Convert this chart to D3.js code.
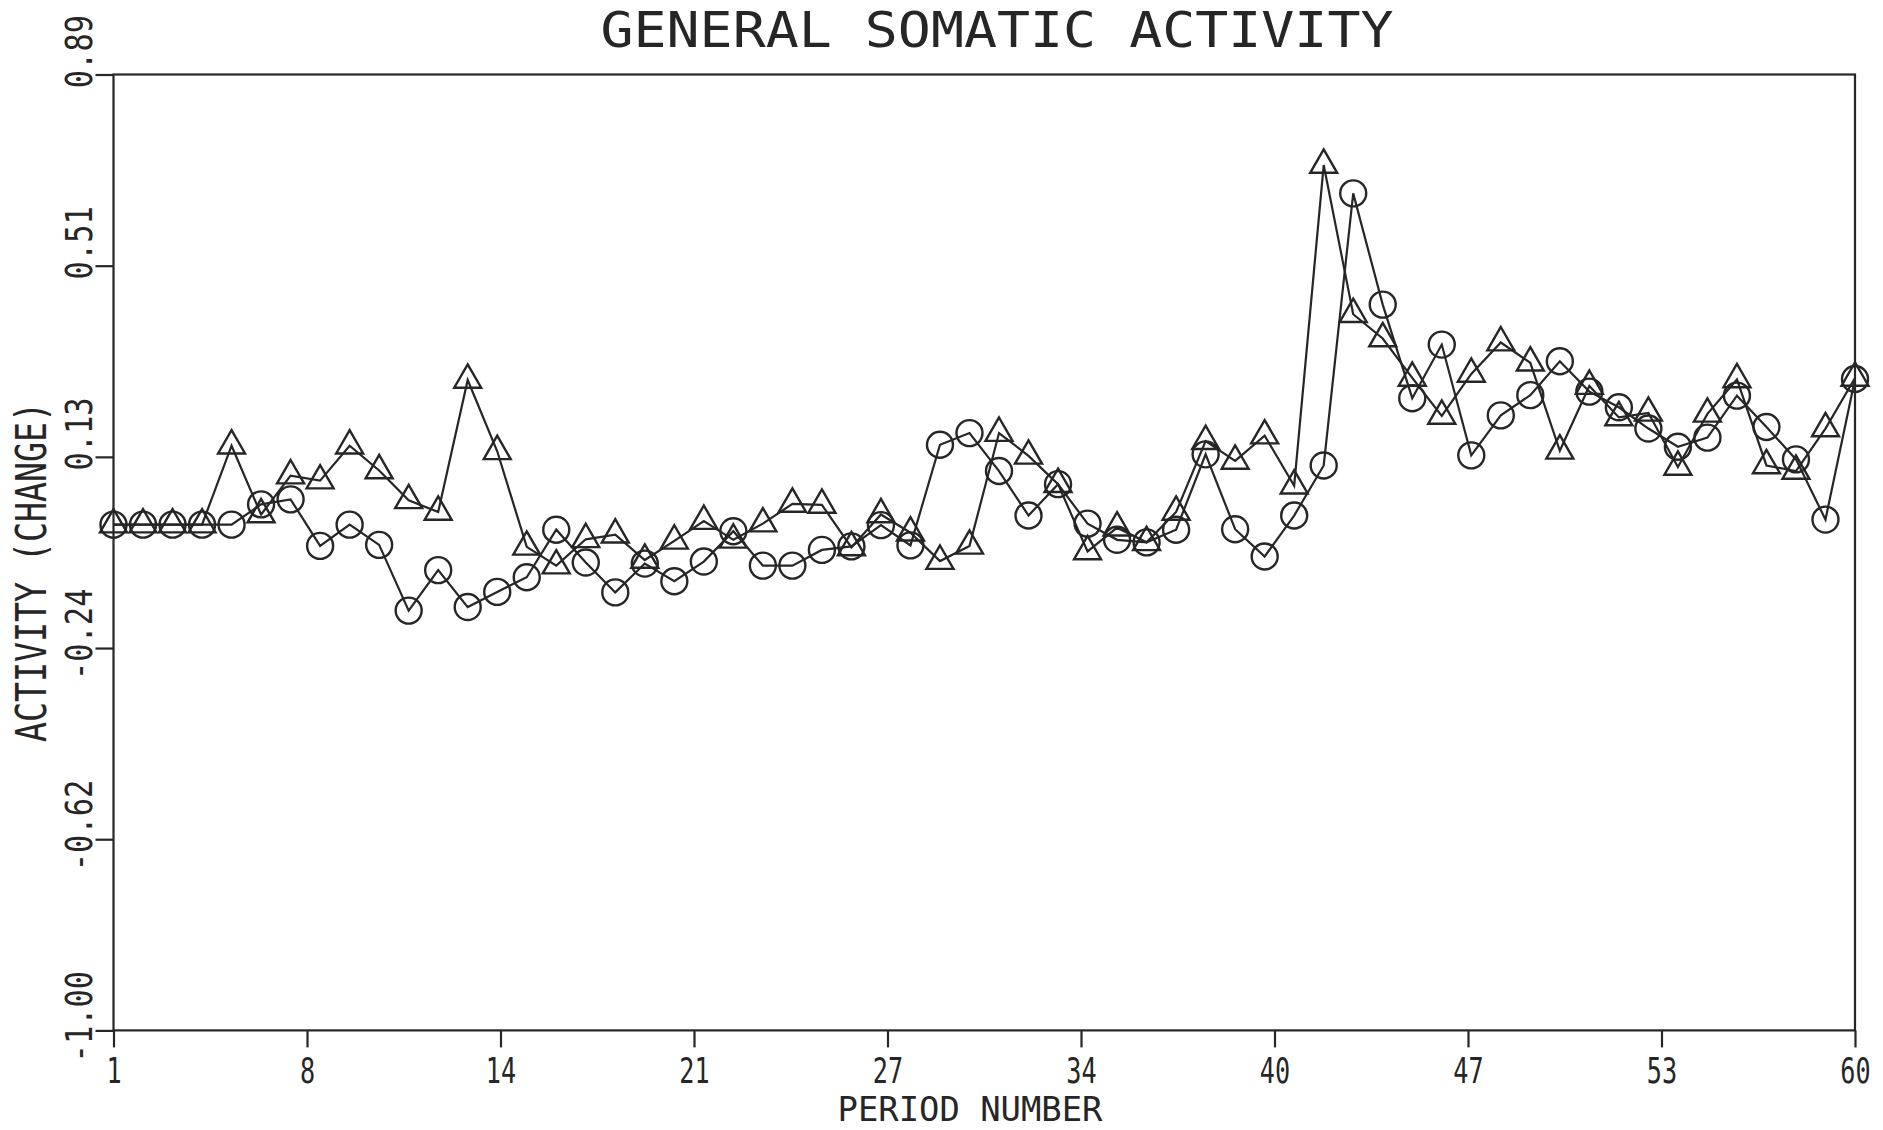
<!DOCTYPE html>
<html>
<head>
<meta charset="utf-8">
<script src="https://cdn.jsdelivr.net/npm/d3@7"></script>
<style>
  body { margin: 0; background: #fff; }
  svg { display: block; }
  text { font-family: "DejaVu Sans Mono", "Liberation Mono", monospace; fill: #262626; }
</style>
</head>
<body>
<div id="chart"></div>
<script>
// period numbers 1..60
var periods = d3.range(1, 61);

// circle series
var circleSeries = [
  0, 0, 0, 0, 0, 0.04, 0.05, -0.042, 0, -0.04,
  -0.17, -0.09, -0.163, -0.133, -0.104, -0.01, -0.075, -0.134, -0.077, -0.112,
  -0.073, -0.013, -0.081, -0.081, -0.05, -0.043, -0.001, -0.041, 0.158, 0.181,
  0.106, 0.018, 0.08, 0.002, -0.03, -0.035, -0.01, 0.139, -0.009, -0.063,
  0.018, 0.117, 0.655, 0.435, 0.25, 0.356, 0.137, 0.216, 0.256, 0.323,
  0.263, 0.232, 0.19, 0.154, 0.172, 0.255, 0.193, 0.129, 0.01, 0.288
];

// triangle series
var triangleSeries = [
  0, 0, 0, 0, 0.156, 0.02, 0.097, 0.087, 0.156, 0.107,
  0.048, 0.025, 0.286, 0.145, -0.044, -0.081, -0.029, -0.02, -0.07, -0.032,
  0.007, -0.03, 0.002, 0.041, 0.039, -0.045, 0.02, -0.016, -0.072, -0.042,
  0.181, 0.136, 0.08, -0.053, -0.006, -0.035, 0.025, 0.165, 0.126, 0.176,
  0.077, 0.711, 0.416, 0.368, 0.29, 0.215, 0.298, 0.36, 0.32, 0.146,
  0.274, 0.212, 0.221, 0.114, 0.219, 0.287, 0.117, 0.106, 0.19, 0.29
];

var xTickLabels = ["1", "8", "14", "21", "27", "34", "40", "47", "53", "60"];
var yTickLabels = ["-1.00", "-0.62", "-0.24", "0.13", "0.51", "0.89"];

var width = 1883, height = 1130;
var ink = "#262626";

var x = d3.scaleLinear().domain([1, 60]).range([113.5, 1855]);
var y = d3.scaleLinear().domain([-1, 0.89]).range([1030.4, 74.5]);

// ticks are evenly spaced over the domain, like the plotter did it
var xTickValues = xTickLabels.map(function (d, k) {
  return x.domain()[0] + k * (x.domain()[1] - x.domain()[0]) / (xTickLabels.length - 1);
});
var yTickValues = yTickLabels.map(function (d, k) {
  return y.domain()[0] + k * (y.domain()[1] - y.domain()[0]) / (yTickLabels.length - 1);
});

var svg = d3.select("#chart").append("svg")
  .attr("width", width)
  .attr("height", height)
  .style("background", "white");

// frame
svg.append("rect")
  .attr("x", x.range()[0])
  .attr("y", y.range()[1])
  .attr("width", x.range()[1] - x.range()[0])
  .attr("height", y.range()[0] - y.range()[1])
  .attr("fill", "none")
  .attr("stroke", ink)
  .attr("stroke-width", 2.2);

var yAxis = svg.append("g")
  .attr("transform", "translate(" + x.range()[0] + ",0)")
  .call(d3.axisLeft(y).tickValues(yTickValues).tickSize(18).tickSizeOuter(0)
    .tickFormat(function (d, i) { return yTickLabels[i]; }));

var xAxis = svg.append("g")
  .attr("transform", "translate(0," + y.range()[0] + ")")
  .call(d3.axisBottom(x).tickValues(xTickValues).tickSize(17).tickSizeOuter(0)
    .tickFormat(function (d, i) { return xTickLabels[i]; }));

[xAxis, yAxis].forEach(function (ax) {
  ax.select(".domain").remove();
  ax.selectAll("line").attr("stroke", ink).attr("stroke-width", 2.2);
  ax.selectAll("text").attr("fill", ink).style("font-family", null);
});

yAxis.selectAll("text")
  .attr("x", null).attr("dy", null)
  .attr("text-anchor", "end")
  .attr("font-size", 38)
  .attr("transform", "translate(-22,-60) rotate(-90) scale(0.8,1)");

// labels squeezed about the tick origin
xAxis.selectAll("text")
  .attr("x", 0).attr("y", 53).attr("dy", null)
  .attr("text-anchor", "middle")
  .attr("font-size", 36)
  .attr("transform", "scale(0.7,1)");

// titles
svg.append("text")
  .attr("x", 997).attr("y", 47)
  .attr("text-anchor", "middle")
  .attr("font-size", 50)
  .attr("textLength", 793)
  .attr("lengthAdjust", "spacingAndGlyphs")
  .text("GENERAL SOMATIC ACTIVITY");

svg.append("text")
  .attr("x", 970).attr("y", 1121)
  .attr("text-anchor", "middle")
  .attr("font-size", 34)
  .attr("textLength", 265)
  .attr("lengthAdjust", "spacingAndGlyphs")
  .text("PERIOD NUMBER");

svg.append("text")
  .attr("transform", "translate(46,572) rotate(-90)")
  .attr("text-anchor", "middle")
  .attr("font-size", 42)
  .attr("textLength", 340)
  .attr("lengthAdjust", "spacingAndGlyphs")
  .text("ACTIVITY (CHANGE)");

// lines
var line = d3.line()
  .x(function (d, i) { return x(periods[i]); })
  .y(function (d) { return y(d); });

[circleSeries, triangleSeries].forEach(function (s) {
  svg.append("path")
    .datum(s)
    .attr("d", line)
    .attr("fill", "none")
    .attr("stroke", ink)
    .attr("stroke-width", 2.2);
});

// markers, hollow so the line shows through them
svg.append("g").selectAll("circle")
  .data(circleSeries)
  .enter().append("circle")
  .attr("cx", function (d, i) { return x(periods[i]); })
  .attr("cy", function (d) { return y(d); })
  .attr("r", 13)
  .attr("fill", "none")
  .attr("stroke", ink)
  .attr("stroke-width", 2.4);

var tri = d3.symbol().type(d3.symbolTriangle).size(315);
svg.append("g").selectAll("path")
  .data(triangleSeries)
  .enter().append("path")
  .attr("d", tri)
  .attr("transform", function (d, i) { return "translate(" + x(periods[i]) + "," + y(d) + ")"; })
  .attr("fill", "none")
  .attr("stroke", ink)
  .attr("stroke-width", 2.4);
</script>
</body>
</html>
